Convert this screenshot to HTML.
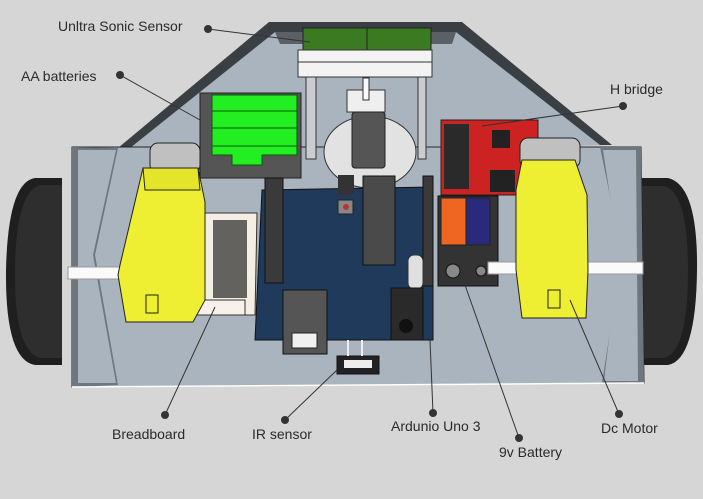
<!DOCTYPE html>
<html><head><meta charset="utf-8"><style>
html,body{margin:0;padding:0;background:#d6d6d6;}
svg{display:block}
text{font-family:"Liberation Sans",sans-serif;font-size:14px;fill:#2a2a2a}
</style></head><body>
<svg width="703" height="499" viewBox="0 0 703 499">
<rect width="703" height="499" fill="#d6d6d6"/>
<!-- wheels -->
<g>
<path d="M35,178 L62,178 L62,365 L35,365 Q5,360 6,270 Q8,182 35,178Z" fill="#1f1f1f"/>
<path d="M40,185 L62,185 L62,358 L40,358 Q14,350 15,270 Q16,192 40,185Z" fill="#2e2e2e"/>
</g>
<g>
<path d="M640,178 L668,178 Q698,185 697,270 Q696,360 668,365 L640,365Z" fill="#1f1f1f"/>
<path d="M640,186 L664,186 Q688,192 688,270 Q688,352 664,358 L640,358Z" fill="#2e2e2e"/>
</g>
<!-- back wall -->
<g>
<polygon points="269,22 462,22 612,145 118,148" fill="#3a3f44"/>
<polygon points="275,32 456,32 600,145 130,148" fill="#a9b4be"/>
<polygon points="275,32 456,32 452,44 280,44" fill="#5a6066"/>
</g>
<!-- chassis plate -->
<g>
<polygon points="72,147 641,147 644,383 72,387" fill="#a9b4be" stroke="#222" stroke-width="1"/>
<polygon points="72,147 118,148 95,255 118,385 72,387" fill="#6f777e"/>
<polygon points="641,147 600,147 622,255 602,383 644,383" fill="#6f777e"/>
<polygon points="78,150 116,150 93,255 116,383 78,383" fill="#a9b4be"/>
<polygon points="636,150 603,150 619,255 604,381 638,381" fill="#a9b4be"/>
<line x1="72" y1="387" x2="644" y2="383" stroke="#fff" stroke-width="1.5"/>
</g>
<!-- servo disc -->
<ellipse cx="370" cy="152" rx="46" ry="36" fill="#e2e2e2" stroke="#333"/>
<!-- ultrasonic sensor -->
<g>
<rect x="303" y="28" width="128" height="22" fill="#3c7a22" stroke="#222"/>
<line x1="367" y1="28" x2="367" y2="50" stroke="#222"/>
<rect x="298" y="50" width="134" height="12" fill="#f3f3f3" stroke="#333"/>
<rect x="298" y="62" width="134" height="15" fill="#f3f3f3" stroke="#333"/>
<rect x="306" y="77" width="10" height="82" fill="#c9cdd0" stroke="#333"/>
<rect x="418" y="77" width="8" height="82" fill="#c9cdd0" stroke="#333"/>
</g>
<!-- servo -->
<g>
<rect x="347" y="90" width="38" height="22" fill="#efefef" stroke="#333"/>
<rect x="363" y="78" width="6" height="22" fill="#fafafa" stroke="#333"/>
<rect x="352" y="112" width="33" height="56" rx="3" fill="#555" stroke="#222"/>
</g>
<!-- AA batteries -->
<g>
<rect x="200" y="93" width="101" height="85" fill="#555" stroke="#222"/>
<rect x="212" y="95" width="85" height="16" fill="#22ee22" stroke="#0a5a0a"/>
<rect x="212" y="111" width="85" height="17" fill="#22ee22" stroke="#0a5a0a"/>
<rect x="212" y="128" width="85" height="18" fill="#22ee22" stroke="#0a5a0a"/>
<polygon points="212,146 297,146 297,155 262,155 262,165 232,165 232,155 212,155" fill="#22ee22" stroke="#0a5a0a"/>
</g>
<!-- arduino -->
<g>
<polygon points="262,190 433,187 433,340 255,340" fill="#1f3a5a" stroke="#111"/>
<rect x="265" y="178" width="18" height="105" fill="#3a3a3a" stroke="#111"/>
<rect x="423" y="176" width="10" height="110" fill="#3a3a3a" stroke="#111"/>
<rect x="363" y="176" width="32" height="89" fill="#4a4a4a" stroke="#111"/>
<rect x="338" y="175" width="16" height="20" fill="#333"/>
<rect x="338" y="200" width="15" height="14" fill="#888" stroke="#222"/>
<circle cx="346" cy="207" r="3" fill="#b33"/>
<rect x="408" y="255" width="15" height="34" rx="6" fill="#e0e0e0" stroke="#333"/>
<rect x="283" y="290" width="44" height="64" fill="#555" stroke="#111"/>
<rect x="292" y="333" width="25" height="15" fill="#f0f0f0" stroke="#222"/>
<rect x="391" y="288" width="32" height="52" fill="#2a2a2a" stroke="#111"/>
<circle cx="406" cy="326" r="7" fill="#111"/>
</g>
<!-- IR sensor -->
<g>
<rect x="337" y="356" width="42" height="18" fill="#222" stroke="#111"/>
<rect x="344" y="360" width="28" height="8" fill="#eee"/>
<line x1="348" y1="340" x2="348" y2="356" stroke="#eee" stroke-width="2"/>
<line x1="362" y1="340" x2="362" y2="356" stroke="#eee" stroke-width="2"/>
</g>
<!-- H bridge -->
<g>
<rect x="441" y="120" width="97" height="75" fill="#cc2222" stroke="#222"/>
<rect x="444" y="124" width="25" height="65" fill="#2a2a2a"/>
<rect x="492" y="130" width="18" height="18" fill="#222"/>
<rect x="490" y="170" width="25" height="22" fill="#222"/>
</g>
<!-- 9v battery -->
<g>
<rect x="438" y="196" width="60" height="90" fill="#333" stroke="#111"/>
<rect x="441" y="198" width="26" height="47" fill="#ee6622" stroke="#222"/>
<rect x="466" y="198" width="24" height="47" fill="#2a2a7a" stroke="#222"/>
<circle cx="453" cy="271" r="7" fill="#888" stroke="#111"/>
<circle cx="481" cy="271" r="5" fill="#888" stroke="#111"/>
</g>
<!-- axles -->
<rect x="68" y="267" width="157" height="12" fill="#fafafa" stroke="#999"/>
<rect x="488" y="262" width="155" height="12" fill="#fafafa" stroke="#999"/>
<!-- breadboard -->
<g>
<polygon points="205,213 257,213 255,315 197,315" fill="#f5eee4" stroke="#333"/>
<rect x="213" y="220" width="34" height="78" fill="#333" opacity="0.75"/>
<rect x="197" y="300" width="48" height="15" fill="#f7f1ea" stroke="#333"/>
</g>
<!-- motors -->
<g>
<rect x="150" y="143" width="50" height="30" rx="8" fill="#c0c0c0" stroke="#222"/>
<polygon points="143,168 198,168 205,202 205,300 193,322 126,322 118,275 120,265" fill="#eeee33" stroke="#222"/>
<polygon points="143,168 198,168 200,190 145,190" fill="#e4e42a" stroke="#222"/>
<rect x="146" y="295" width="12" height="18" fill="#eeee33" stroke="#222"/>
</g>
<g>
<rect x="520" y="138" width="60" height="30" rx="8" fill="#c0c0c0" stroke="#222"/>
<polygon points="522,160 575,160 587,195 588,270 586,318 522,318 516,270 516,190" fill="#eeee33" stroke="#222"/>
<rect x="548" y="290" width="12" height="18" fill="#eeee33" stroke="#222"/>
</g>
<!-- leader lines -->
<g stroke="#333" stroke-width="1">
<line x1="208" y1="29" x2="310" y2="42"/>
<line x1="120" y1="75" x2="200" y2="120"/>
<line x1="623" y1="106" x2="482" y2="126"/>
<line x1="165" y1="415" x2="215" y2="307"/>
<line x1="285" y1="420" x2="337" y2="370"/>
<line x1="433" y1="413" x2="430" y2="340"/>
<line x1="519" y1="438" x2="465" y2="285"/>
<line x1="619" y1="414" x2="570" y2="300"/>
</g>
<g fill="#333">
<circle cx="208" cy="29" r="4"/>
<circle cx="120" cy="75" r="4"/>
<circle cx="623" cy="106" r="4"/>
<circle cx="165" cy="415" r="4"/>
<circle cx="285" cy="420" r="4"/>
<circle cx="433" cy="413" r="4"/>
<circle cx="519" cy="438" r="4"/>
<circle cx="619" cy="414" r="4"/>
</g>
<!-- labels -->
<text x="58" y="31">Unltra Sonic Sensor</text>
<text x="21" y="81">AA batteries</text>
<text x="610" y="94">H bridge</text>
<text x="112" y="439">Breadboard</text>
<text x="252" y="439">IR sensor</text>
<text x="391" y="431">Ardunio Uno 3</text>
<text x="499" y="457">9v Battery</text>
<text x="601" y="433">Dc Motor</text>
</svg>
</body></html>
